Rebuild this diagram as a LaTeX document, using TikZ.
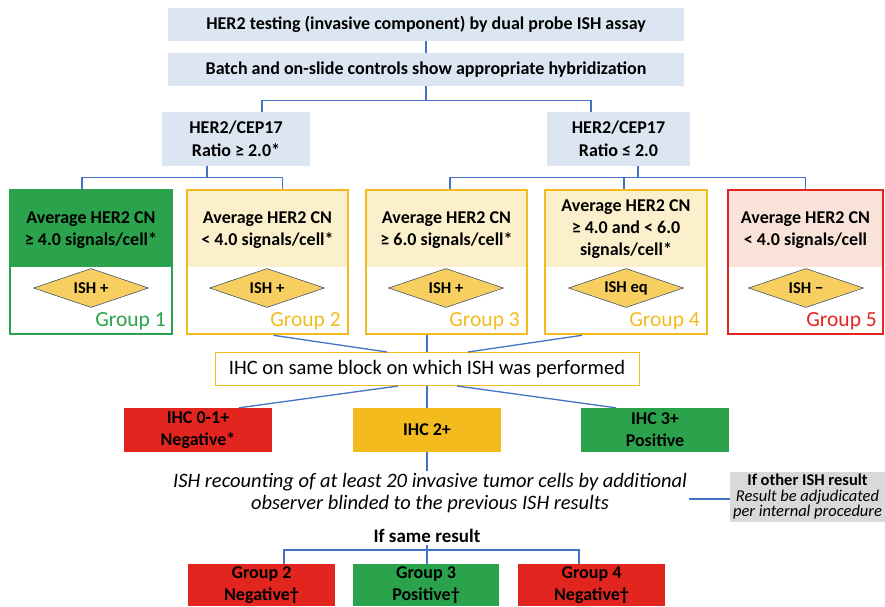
\documentclass[tikz,border=0pt]{standalone}
\usepackage{fontspec}
\setmainfont{Carlito}
\usetikzlibrary{shapes.geometric,calc}

\definecolor{lineblue}{RGB}{68,114,196}
\definecolor{boxblue}{RGB}{220,230,242}
\definecolor{grgreen}{RGB}{43,163,76}
\definecolor{gryellow}{RGB}{244,187,30}
\definecolor{grred}{RGB}{226,37,30}
\definecolor{cream}{RGB}{252,240,204}
\definecolor{pink}{RGB}{249,226,215}
\definecolor{diafill}{RGB}{246,207,96}
\definecolor{diadraw}{RGB}{68,84,106}
\definecolor{greybox}{RGB}{217,217,217}

\newcommand\hdrfont{\fontsize{18}{22}\selectfont\bfseries}
\newcommand\cnfont{\fontsize{18}{22}\selectfont\bfseries}
\newcommand\grpfont{\fontsize{21.5}{24}\selectfont}
\newcommand\diafont{\fontsize{16.5}{18}\selectfont\bfseries}
\newcommand\bigfont{\fontsize{20.5}{22}\selectfont}

\begin{document}
\begin{tikzpicture}[x=1pt,y=-1pt,
  conn/.style={draw=lineblue, line width=1.3pt},
  bluebox/.style={fill=boxblue, draw=none, inner sep=0pt, font=\hdrfont, align=center},
  grpbox/.style={line width=2.6pt, inner sep=0pt, minimum height=144pt},
  cntext/.style={font=\cnfont, align=center, inner sep=0pt},
  dia/.style={diamond, aspect=3, fill=diafill, draw=diadraw, line width=0.6pt,
              minimum width=115pt, minimum height=39pt, inner sep=0pt, font=\diafont},
  grplabel/.style={font=\grpfont, anchor=base east, inner sep=0pt},
  result/.style={inner sep=0pt, font=\hdrfont, align=center, text=black}
]
\useasboundingbox (0,0) rectangle (885,606);

% header steps
\node[bluebox, minimum width=516pt, minimum height=33pt] (test) at (426,24.5)
  {HER2 testing (invasive component) by dual probe ISH assay};
\node[bluebox, minimum width=516pt, minimum height=33pt] (ctrl) at (426,69.5)
  {Batch and on-slide controls show appropriate hybridization};
\draw[conn] (test.south) -- (ctrl.north);

% ratio split
\node[bluebox, minimum width=148pt, minimum height=54pt] (rpos) at (236,139)
  {HER2/CEP17\\[1pt]Ratio ≥ 2.0*};
\node[bluebox, minimum width=143pt, minimum height=54pt] (rneg) at (618.5,139)
  {HER2/CEP17\\[1pt]Ratio ≤ 2.0};
\draw[conn] (ctrl.south) -- ++(0,14) coordinate (j1);
\draw[conn] (j1) -| ([xshift=26pt]rpos.north);
\draw[conn] (j1) -| ([xshift=-27.5pt]rneg.north);

% group boxes: tinted upper part, then the frame
\fill[grgreen] (10,190) rectangle (172,267);
\fill[cream] (187,190) rectangle (348,267);
\fill[cream] (366,190) rectangle (527,267);
\fill[cream] (545,190) rectangle (707,267);
\fill[pink] (728,190) rectangle (883,267);

\node[grpbox, draw=grgreen, minimum width=162pt] (g1) at (91,262) {};
\node[grpbox, draw=gryellow, minimum width=161pt] (g2) at (267.5,262) {};
\node[grpbox, draw=gryellow, minimum width=161pt] (g3) at (446.5,262) {};
\node[grpbox, draw=gryellow, minimum width=162pt] (g4) at (626,262) {};
\node[grpbox, draw=grred, minimum width=155pt] (g5) at (805.5,262) {};

\node[cntext] at (91,230) {Average HER2 CN\\≥ 4.0 signals/cell*};
\node[cntext] at (267.5,230) {Average HER2 CN\\< 4.0 signals/cell*};
\node[cntext] at (446.5,230) {Average HER2 CN\\≥ 6.0 signals/cell*};
\node[cntext] at (626,229) {Average HER2 CN\\≥ 4.0 and < 6.0\\signals/cell*};
\node[cntext] at (805.5,230) {Average HER2 CN\\< 4.0 signals/cell};

\node[dia] (d1) at (91,288) {ISH +};
\node[dia] (d2) at (267,288) {ISH +};
\node[dia] (d3) at (446,288) {ISH +};
\node[dia] (d4) at (626,288) {ISH eq};
\node[dia] (d5) at (806,288) {ISH −};

\node[grplabel, text=grgreen] at (166,326) {Group 1};
\node[grplabel, text=gryellow] at (341,326) {Group 2};
\node[grplabel, text=gryellow] at (520,326) {Group 3};
\node[grplabel, text=gryellow] at (700,326) {Group 4};
\node[grplabel, text=grred] at (877,326) {Group 5};

\draw[conn] ([xshift=-29pt]rpos.south) -- ++(0,11) coordinate (j2);
\draw[conn] (j2) -| ([xshift=-9pt]g1.north);
\draw[conn] (j2) -| ([xshift=15pt]g2.north);
\draw[conn] ([xshift=19.5pt]rneg.south) -- ++(0,11) coordinate (j3);
\draw[conn] (j3) -| ([xshift=3.5pt]g3.north);
\draw[conn] (j3) -| ([xshift=-2pt]g4.north);
\draw[conn] (j3) -| (g5.north);

% IHC on the same block
\node[draw=gryellow, line width=1pt, fill=white, minimum width=424pt, minimum height=33pt,
      inner sep=0pt, font=\bigfont] (ihc) at (427,369) {IHC on same block on which ISH was performed};
\draw[conn] ([xshift=6pt]g2.south) -- ([xshift=-40pt]ihc.north);
\draw[conn] ([xshift=-19.5pt]g3.south) -- (ihc.north);
\draw[conn] ([xshift=-44pt]g4.south) -- ([xshift=41pt]ihc.north);

% IHC scores
\node[fill=grred, minimum width=148pt, minimum height=44pt, inner sep=0pt,
      font=\hdrfont, align=center] (ihc01) at (198,430) {IHC 0-1+\\Negative*};
\node[fill=gryellow, minimum width=148pt, minimum height=44pt, inner sep=0pt,
      font=\hdrfont] (ihc2) at (427,430) {IHC 2+};
\node[fill=grgreen, minimum width=148pt, minimum height=44pt, inner sep=0pt,
      font=\hdrfont, align=center] (ihc3) at (655,430) {IHC 3+\\Positive};
\draw[conn] ([xshift=-29pt]ihc.south) -- ([xshift=41pt]ihc01.north);
\draw[conn] (ihc.south) -- (ihc2.north);
\draw[conn] ([xshift=30pt]ihc.south) -- ([xshift=-39pt]ihc3.north);

% recount by a second observer
\node[font=\bigfont\itshape, align=center, inner sep=2pt] (recount) at (430,493)
  {ISH recounting of at least 20 invasive tumor cells by additional\\observer blinded to the previous ISH results};
\draw[conn] (ihc2.south) -- (ihc2.south |- recount.north);

\node[fill=greybox, minimum width=155pt, minimum height=50pt, inner sep=0pt, align=center,
      font=\fontsize{16.5}{15.5}\selectfont] (other) at (807.5,497)
  {\textbf{If other ISH result}\\\textit{Result be adjudicated}\\\textit{per internal procedure}};
\draw[conn] ([yshift=-2pt]other.west -| recount.east) -- ([yshift=-2pt]other.west);

% concordant result
\node[font=\fontsize{19}{22}\selectfont\bfseries, inner sep=2pt] (same) at (427,536) {If same result};
\draw[conn] (same.south) -- ++(0,5) coordinate (j4);

\node[fill=grred, minimum width=147pt, minimum height=42pt, result] (f2) at (261.5,585)
  {Group 2\\Negative†};
\node[fill=grgreen, minimum width=146pt, minimum height=42pt, result] (f3) at (426,585)
  {Group 3\\Positive†};
\node[fill=grred, minimum width=147pt, minimum height=42pt, result] (f4) at (591.5,585)
  {Group 4\\Negative†};
\draw[conn] (j4) -| ([xshift=22.5pt]f2.north);
\draw[conn] (j4) -- (j4 |- f3.north);
\draw[conn] (j4) -| ([xshift=-12.5pt]f4.north);
\end{tikzpicture}
\end{document}
